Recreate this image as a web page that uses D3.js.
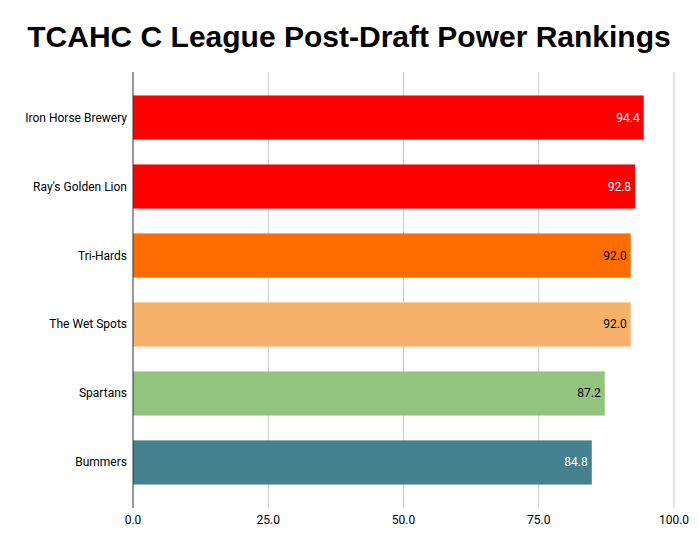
<!DOCTYPE html>
<html><head><meta charset="utf-8">
<script src="https://cdn.jsdelivr.net/npm/d3@7"></script>
<style>body{margin:0;background:#fff}</style>
</head><body>
<svg id="c" width="698" height="547"></svg>
<script>
const teams = ["Iron Horse Brewery", "Ray's Golden Lion", "Tri-Hards", "The Wet Spots", "Spartans", "Bummers"];
const scores = [94.4, 92.8, 92.0, 92.0, 87.2, 84.8];
const colors = ["#ff0000", "#ff0000", "#ff6d01", "#f6b26b", "#93c47d", "#45818e"];
const labelColors = ["#fff", "#fff", "#000", "#000", "#000", "#fff"];
const ticks = [0, 25, 50, 75, 100];

const svg = d3.select("#c");
const x = d3.scaleLinear().domain([0, 100]).range([133, 674]);
const y = d3.scaleBand().domain(teams).range([72, 508]).paddingInner(0.36).paddingOuter(0.34);

svg.append("text").attr("x", 349).attr("y", 47).attr("text-anchor", "middle")
  .attr("font-family", "Liberation Sans, Arial").attr("font-weight", "bold").attr("font-size", 30)
  .text("TCAHC C League Post-Draft Power Rankings");

svg.selectAll("line.g").data(ticks.slice(1)).enter().append("line")
  .attr("x1", d => x(d)).attr("x2", d => x(d)).attr("y1", 72).attr("y2", 508)
  .attr("stroke", "#ccc");

svg.selectAll("text.t").data(ticks).enter().append("text")
  .attr("x", d => x(d)).attr("y", 524).attr("text-anchor", "middle")
  .attr("font-family", "Roboto").attr("font-size", 12).text(d => d.toFixed(1));

svg.selectAll("rect").data(teams).enter().append("rect")
  .attr("x", x(0)).attr("y", d => y(d)).attr("height", y.bandwidth())
  .attr("width", (d, i) => x(scores[i]) - x(0)).attr("fill", (d, i) => colors[i]);

svg.selectAll("text.v").data(teams).enter().append("text")
  .attr("x", (d, i) => x(scores[i]) - 4).attr("y", d => y(d) + y.bandwidth() / 2 + 4)
  .attr("text-anchor", "end").attr("font-family", "Roboto").attr("font-size", 12)
  .attr("fill", (d, i) => labelColors[i]).text((d, i) => scores[i].toFixed(1));

svg.selectAll("text.c").data(teams).enter().append("text")
  .attr("x", 127).attr("y", d => y(d) + y.bandwidth() / 2 + 4)
  .attr("text-anchor", "end").attr("font-family", "Roboto").attr("font-size", 12)
  .text(d => d);

svg.append("line").attr("x1", 133).attr("x2", 133).attr("y1", 72).attr("y2", 508).attr("stroke", "#333");
</script>
</body></html>
